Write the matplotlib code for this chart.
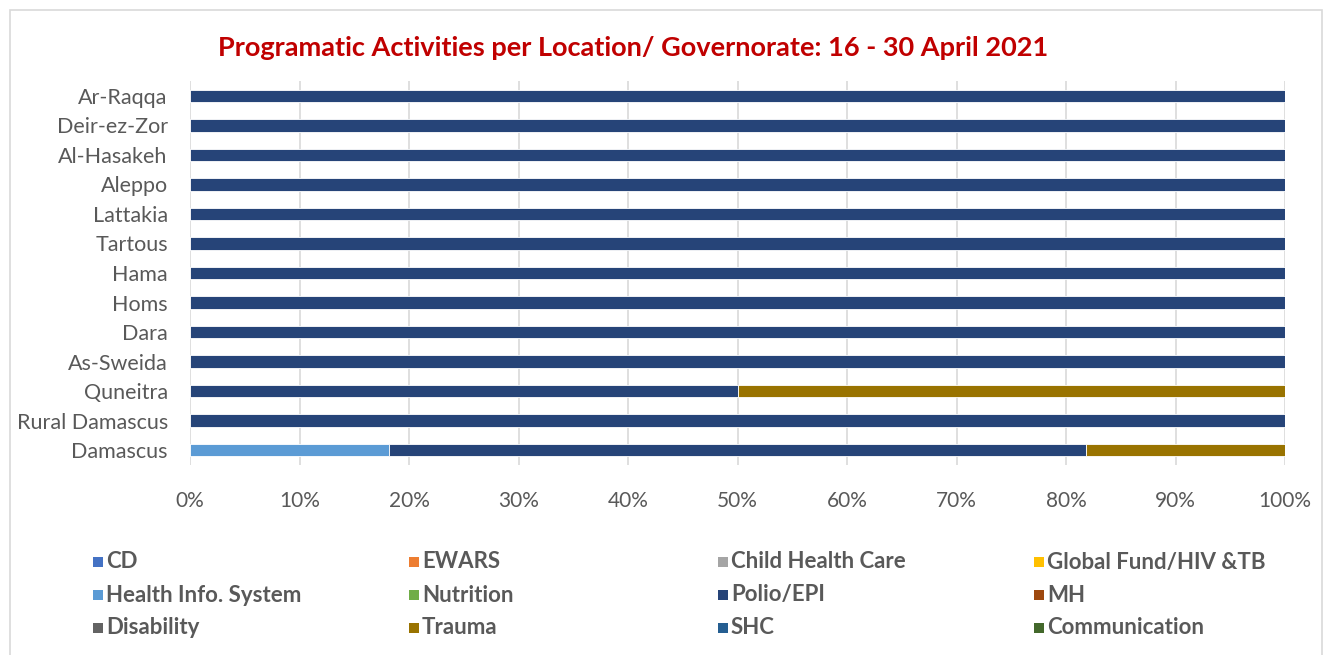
import matplotlib
matplotlib.use("Agg")
import matplotlib.pyplot as plt
from matplotlib.patches import Rectangle
import numpy as np

plt.rcParams['font.family'] = ['Lato', 'DejaVu Sans']

locations = ["Ar-Raqqa", "Deir-ez-Zor", "Al-Hasakeh", "Aleppo", "Lattakia", "Tartous",
             "Hama", "Homs", "Dara", "As-Sweida", "Quneitra", "Rural Damascus", "Damascus"]
series_names = ["CD", "EWARS", "Child Health Care", "Global Fund/HIV &TB",
                "Health Info. System", "Nutrition", "Polio/EPI", "MH",
                "Disability", "Trauma", "SHC", "Communication"]
colors = ["#4472C4", "#ED7D31", "#A5A5A5", "#FFC000",
          "#5B9BD5", "#70AD47", "#264478", "#9E480E",
          "#636363", "#997300", "#255E91", "#43682B"]

# activity counts per location (order matches `locations`)
cd            = [0, 0, 0, 0, 0, 0, 0, 0, 0, 0, 0, 0, 0]
ewars         = [0, 0, 0, 0, 0, 0, 0, 0, 0, 0, 0, 0, 0]
child_health  = [0, 0, 0, 0, 0, 0, 0, 0, 0, 0, 0, 0, 0]
global_fund   = [0, 0, 0, 0, 0, 0, 0, 0, 0, 0, 0, 0, 0]
his           = [0, 0, 0, 0, 0, 0, 0, 0, 0, 0, 0, 0, 2]
nutrition     = [0, 0, 0, 0, 0, 0, 0, 0, 0, 0, 0, 0, 0]
polio_epi     = [1, 1, 1, 1, 1, 1, 1, 1, 1, 1, 1, 1, 7]
mh            = [0, 0, 0, 0, 0, 0, 0, 0, 0, 0, 0, 0, 0]
disability    = [0, 0, 0, 0, 0, 0, 0, 0, 0, 0, 0, 0, 0]
trauma        = [0, 0, 0, 0, 0, 0, 0, 0, 0, 0, 1, 0, 2]
shc           = [0, 0, 0, 0, 0, 0, 0, 0, 0, 0, 0, 0, 0]
communication = [0, 0, 0, 0, 0, 0, 0, 0, 0, 0, 0, 0, 0]

xticks = [0, 10, 20, 30, 40, 50, 60, 70, 80, 90, 100]
xticklabels = [f"{t}%" for t in xticks]

data = np.array([cd, ewars, child_health, global_fund, his, nutrition, polio_epi,
                 mh, disability, trauma, shc, communication], dtype=float)
totals = data.sum(axis=0)
pct = data / totals * 100

fig = plt.figure(figsize=(13.32, 6.55), dpi=100)
W, H = 1332, 655
ax = fig.add_axes([190 / W, 1 - 465 / H, (1285 - 190) / W, (465 - 81) / H])

n = len(locations)
y = np.arange(n)[::-1]
left = np.zeros(n)
for i in range(len(series_names)):
    ax.barh(y, pct[i], left=left, height=0.42, color=colors[i],
            edgecolor="white", linewidth=0.6, zorder=3)
    left += pct[i]

ax.set_xlim(0, 100)
ax.set_ylim(-0.5, n - 0.5)
ax.set_yticks(y)
ax.set_yticklabels(locations, fontsize=15.5, color="#595959")
ax.set_xticks(xticks)
ax.set_xticklabels(xticklabels, fontsize=15, color="#595959")
ax.tick_params(axis="both", length=0)
ax.tick_params(axis="y", pad=16)
ax.tick_params(axis="x", pad=19)
ax.grid(axis="x", color="#D9D9D9", linewidth=1.2, zorder=0)
for s in ax.spines.values():
    s.set_visible(False)

fig.text(633 / W, 1 - 48 / H, "Programatic Activities per Location/ Governorate: 16 - 30 April 2021",
         ha="center", va="center", fontsize=19.5, fontweight="bold", color="#C00000")

# border frame
fig.patches.append(Rectangle((10 / W, -0.02), (1322 - 10) / W, 1 - 10 / H + 0.02,
                             transform=fig.transFigure, fill=False,
                             edgecolor="#D9D9D9", linewidth=1.2))

# legend laid out in a 4-column grid, row-major like the original
col_x = [93, 409, 718, 1034]
row_y = [562, 595, 628]
for k, (name, c) in enumerate(zip(series_names, colors)):
    r, cc = divmod(k, 4)
    x0, y0 = col_x[cc], row_y[r]
    fig.patches.append(Rectangle((x0 / W, 1 - (y0 + 5) / H), 10 / W, 10 / H,
                                 transform=fig.transFigure, facecolor=c, edgecolor="none"))
    fig.text((x0 + 13) / W, 1 - y0 / H, name, ha="left", va="center",
             fontsize=16, fontweight="bold", color="#595959")

fig.savefig("out.png", dpi=100, facecolor="white")
